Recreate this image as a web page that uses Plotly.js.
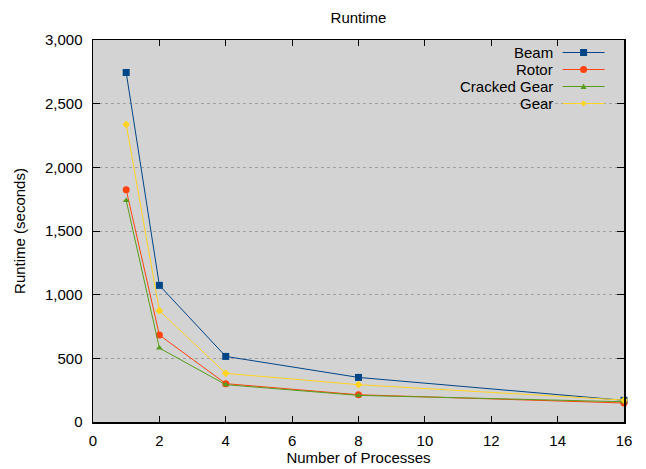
<!DOCTYPE html>
<html>
<head>
<meta charset="utf-8">
<script src="https://cdn.plot.ly/plotly-3.0.1.min.js"></script>
<style>html,body{margin:0;padding:0;background:#fff;}#chart{width:646px;height:469px;}</style>
</head>
<body>
<div id="chart"></div>
<script>
const processes = [1, 2, 4, 8, 16];
const seriesNames = ['Beam', 'Rotor', 'Cracked Gear', 'Gear'];
const beam = [2745, 1073, 515, 350, 170];
const rotor = [1824, 683, 301, 214, 149];
const crackedGear = [1740, 581, 293, 209, 159];
const gear = [2337, 874, 382, 293, 172];
const seriesValues = [beam, rotor, crackedGear, gear];
const colors = ['#004586', '#ff420e', '#579d1c', '#ffd320'];
const symbols = ['square', 'circle', 'triangle-up', 'diamond'];
const markerSizes = [7, 7, 6, 6];
const xTicks = [0, 2, 4, 6, 8, 10, 12, 14, 16];
const yTicks = [0, 500, 1000, 1500, 2000, 2500, 3000];

const font = 'Liberation Sans, Arial, sans-serif';

const traces = seriesValues.map((vals, i) => ({
  type: 'scatter', mode: 'lines+markers',
  x: processes, y: vals, name: seriesNames[i],
  line: {color: colors[i], width: 1},
  marker: {symbol: symbols[i], size: markerSizes[i], color: colors[i]},
  showlegend: false, cliponaxis: false
}));

// plot area pixel geometry for the custom legend (gnuplot style, text left of symbol)
const L = 92.5, T = 40, W = 532, H = 382;
const px = p => (p - L) / W;
const py = p => (T + H - p) / H;

const shapes = [{
  type: 'rect', xref: 'paper', yref: 'paper', layer: 'between',
  x0: px(443), x1: px(620), y0: py(45), y1: py(111),
  fillcolor: '#d3d3d3', line: {width: 0}
}];
const annotations = [];
const rowY = [52.5, 69.5, 86.5, 103.5];
seriesNames.forEach((n, i) => {
  const yy = rowY[i];
  annotations.push({
    xref: 'paper', yref: 'paper', x: px(554), y: py(yy), xanchor: 'right', yanchor: 'middle',
    text: n, showarrow: false, font: {family: font, size: 15, color: '#000'},
    borderpad: 0
  });
  shapes.push({type: 'line', xref: 'paper', yref: 'paper', layer: 'above',
    x0: px(563), x1: px(605), y0: py(yy), y1: py(yy), line: {color: colors[i], width: 1}});
  const cx = 584;
  if (symbols[i] === 'square') {
    shapes.push({type: 'rect', xref: 'paper', yref: 'paper', layer: 'above',
      x0: px(cx - 3.5), x1: px(cx + 3.5), y0: py(yy + 3.5), y1: py(yy - 3.5),
      fillcolor: colors[i], line: {width: 0}});
  } else if (symbols[i] === 'circle') {
    shapes.push({type: 'circle', xref: 'paper', yref: 'paper', layer: 'above',
      x0: px(cx - 3.5), x1: px(cx + 3.5), y0: py(yy + 3.5), y1: py(yy - 3.5),
      fillcolor: colors[i], line: {width: 0}});
  } else if (symbols[i] === 'triangle-up') {
    shapes.push({type: 'path', xref: 'paper', yref: 'paper', layer: 'above',
      path: `M ${px(cx-3)} ${py(yy+2.5)} L ${px(cx+3)} ${py(yy+2.5)} L ${px(cx)} ${py(yy-3)} Z`,
      fillcolor: colors[i], line: {width: 0}});
  } else {
    shapes.push({type: 'path', xref: 'paper', yref: 'paper', layer: 'above',
      path: `M ${px(cx-3)} ${py(yy)} L ${px(cx)} ${py(yy-3)} L ${px(cx+3)} ${py(yy)} L ${px(cx)} ${py(yy+3)} Z`,
      fillcolor: colors[i], line: {width: 0}});
  }
});

const layout = {
  width: 646, height: 469,
  margin: {l: 92.5, r: 21.5, t: 40, b: 47, pad: 0},
  paper_bgcolor: '#ffffff', plot_bgcolor: '#d3d3d3',
  font: {family: font, size: 15, color: '#000'},
  title: {text: 'Runtime', font: {family: font, size: 15, color: '#000'}, x: 0.5, xref: 'paper', y: 0.963, yanchor: 'middle'},
  xaxis: {
    range: [0, 16], tickvals: xTicks, ticktext: xTicks.map(String),
    ticks: 'inside', ticklen: 6, tickcolor: '#000', tickwidth: 1,
    showline: true, linecolor: '#000', linewidth: 1.5, mirror: 'ticks',
    showgrid: false, zeroline: false,
    title: {text: 'Number of Processes', font: {family: font, size: 15}, standoff: 5},
    tickfont: {family: font, size: 15}, ticklabelstandoff: 4
  },
  yaxis: {
    range: [0, 3000], tickvals: yTicks, tickformat: ',d',
    ticks: 'inside', ticklen: 7, tickcolor: '#000', tickwidth: 1,
    showline: true, linecolor: '#000', linewidth: 1.5, mirror: 'ticks',
    showgrid: true, gridcolor: '#a0a0a0', gridwidth: 1, griddash: 'dot',
    zeroline: false,
    title: {text: 'Runtime (seconds)', font: {family: font, size: 15}, standoff: 15},
    tickfont: {family: font, size: 15}, ticklabelstandoff: 6
  },
  shapes: shapes,
  annotations: annotations
};

Plotly.newPlot('chart', traces, layout, {displayModeBar: false, staticPlot: true});
</script>
</body>
</html>
